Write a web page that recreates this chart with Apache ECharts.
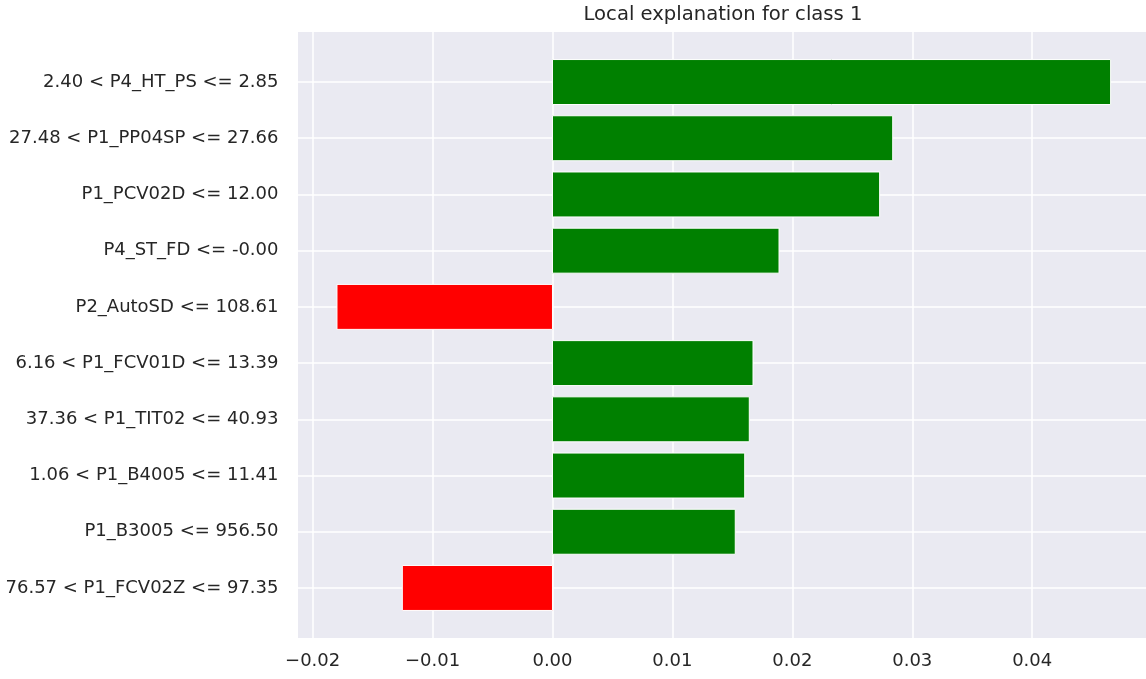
<!DOCTYPE html>
<html>
<head>
<meta charset="utf-8">
<script src="https://cdn.jsdelivr.net/npm/echarts@6/dist/echarts.min.js"></script>
<style>
html,body{margin:0;padding:0;background:#ffffff;}
#chart{width:1146px;height:679px;}
</style>
</head>
<body>
<div id="chart"></div>
<script>
// ---- data (top to bottom) ----
const chartTitle = 'Local explanation for class 1';
const features = [
  '2.40 < P4_HT_PS <= 2.85',
  '27.48 < P1_PP04SP <= 27.66',
  'P1_PCV02D <= 12.00',
  'P4_ST_FD <= -0.00',
  'P2_AutoSD <= 108.61',
  '6.16 < P1_FCV01D <= 13.39',
  '37.36 < P1_TIT02 <= 40.93',
  '1.06 < P1_B4005 <= 11.41',
  'P1_B3005 <= 956.50',
  '76.57 < P1_FCV02Z <= 97.35'
];
const weights = [0.04654, 0.02837, 0.02728, 0.01889, -0.01797, 0.01672, 0.01641, 0.01603, 0.01524, -0.01252];
const xTicks = [-0.02, -0.01, 0.00, 0.01, 0.02, 0.03, 0.04];
const yTicks = [0, 1, 2, 3, 4, 5, 6, 7, 8, 9];

// ---- styling ----
const posColor = '#008000';
const negColor = '#ff0000';
const textColor = '#262626';
const fontFamily = 'DejaVu Sans';
const barHalf = 0.4;

const chart = echarts.init(document.getElementById('chart'), null, {renderer: 'canvas'});
const fmtX = v => {
  if (Math.abs(v) < 1e-12) return '0.00';
  return (v < 0 ? '\u2212' : '') + Math.abs(v).toFixed(2);
};

chart.setOption({
  animation: false,
  backgroundColor: '#ffffff',
  title: {
    text: chartTitle,
    left: 718,
    top: 0,
    textAlign: 'center',
    textStyle: {fontFamily: fontFamily, fontSize: 19.6, fontWeight: 'normal', color: textColor}
  },
  grid: {
    left: 298, right: 0, top: 32, bottom: 41,
    show: true, backgroundColor: '#eaeaf2', borderWidth: 0
  },
  xAxis: {
    type: 'value',
    min: -0.02122, max: 0.04949,
    axisLine: {show: false},
    axisTick: {show: false, customValues: xTicks},
    axisLabel: {customValues: xTicks, formatter: fmtX, fontFamily: fontFamily, fontSize: 18, color: textColor, margin: 14},
    splitLine: {show: true, lineStyle: {color: '#ffffff', width: 1.5}}
  },
  yAxis: {
    type: 'value',
    inverse: true,
    min: -0.89, max: 9.89,
    axisLine: {show: false},
    axisTick: {show: false, customValues: yTicks},
    axisLabel: {customValues: yTicks, formatter: v => features[Math.round(v)], fontFamily: fontFamily, fontSize: 18, color: textColor, margin: 19.5},
    splitLine: {show: true, lineStyle: {color: '#ffffff', width: 1.5}}
  },
  series: [{
    type: 'custom',
    encode: {x: 0, y: 1},
    data: weights.map((w, i) => [w, i]),
    renderItem: (params, api) => {
      const v = api.value(0), i = api.value(1);
      const a = api.coord([0, i - barHalf]);
      const b = api.coord([v, i + barHalf]);
      return {
        type: 'rect',
        shape: {
          x: Math.min(a[0], b[0]), y: Math.min(a[1], b[1]),
          width: Math.abs(b[0] - a[0]), height: Math.abs(b[1] - a[1])
        },
        style: {fill: v >= 0 ? posColor : negColor, stroke: '#ffffff', lineWidth: 1}
      };
    }
  }]
});
</script>
</body>
</html>
